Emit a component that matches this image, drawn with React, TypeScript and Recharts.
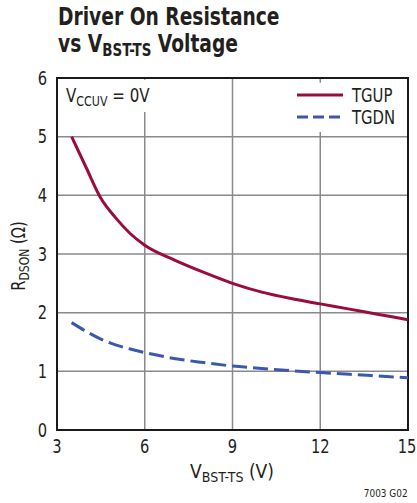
import React from "react";
import {
  LineChart, Line, XAxis, YAxis, CartesianGrid, ReferenceArea, Label,
} from "recharts";

// V_BST-TS (V)
const VOLTS = [3.5, 4, 4.5, 5, 5.5, 6, 7, 8, 9, 10, 11, 12, 13, 14, 15];
// R_DSON (ohm)
const TGUP = [5.0, 4.47, 3.95, 3.62, 3.35, 3.15, 2.9, 2.69, 2.5, 2.35, 2.24, 2.15, 2.06, 1.97, 1.88];
const TGDN = [1.83, 1.68, 1.55, 1.45, 1.38, 1.32, 1.22, 1.15, 1.09, 1.05, 1.01, 0.98, 0.95, 0.92, 0.89];

const X_TICKS = [3, 6, 9, 12, 15];
const Y_TICKS = [0, 1, 2, 3, 4, 5, 6];

const FONT = "'Liberation Sans Narrow', 'DejaVu Sans', sans-serif";
const INK = "#231f20";
const RED = "#9c0c3a";
const BLUE = "#3a58ad";

const data = VOLTS.map((v, i) => ({ v, tgup: TGUP[i], tgdn: TGDN[i] }));

const SERIES = [
  { name: "TGUP", color: RED, dash: undefined },
  { name: "TGDN", color: BLUE, dash: "11 5" },
];

const COND: React.CSSProperties = { fontStretch: "condensed" };

// squeeze text horizontally, the original uses a narrow face
const narrow = (k: number, origin: string): React.CSSProperties => ({
  display: "inline-block",
  transform: `scaleX(${k})`,
  transformOrigin: origin,
  whiteSpace: "nowrap",
});

function LegendBox() {
  return (
    <div style={{ position: "absolute", left: 297, top: 84, fontSize: 19 }}>
      {SERIES.map((r) => (
        <div key={r.name} style={{ display: "flex", alignItems: "center", height: 22 }}>
          <svg width={46} height={6} style={{ marginRight: 9 }}>
            <line x1={0} y1={3} x2={46} y2={3} stroke={r.color} strokeWidth={3} strokeDasharray={r.dash} />
          </svg>
          <span style={narrow(0.87, "left")}>{r.name}</span>
        </div>
      ))}
    </div>
  );
}

function Tick(props: any) {
  const { x, y, payload, textAnchor, axis } = props;
  const dx = axis === "x" && payload.value === 15 ? -1 : 0;
  const px = x + dx;
  return (
    <text
      x={px}
      y={y}
      dy={axis === "x" ? "0.71em" : "0.355em"}
      textAnchor={textAnchor}
      fontSize={19}
      fill={INK}
      fontFamily={FONT}
      style={COND}
      transform={`translate(${px} 0) scale(0.86 1) translate(${-px} 0)`}
    >
      {payload.value}
    </text>
  );
}

export default function App() {
  return (
    <div
      style={{
        position: "absolute", left: 0, top: 0, width: 417, height: 503, background: "#fff",
        fontFamily: FONT, color: INK, overflow: "hidden", ...COND,
      }}
    >
      <div style={{ position: "absolute", left: 58, top: 3, fontWeight: "bold", fontSize: 25, lineHeight: "27px", ...narrow(0.83, "left") }}>
        <div>Driver On Resistance</div>
        <div>
          vs V<sub style={{ fontSize: 18, verticalAlign: "-4px" }}>BST-TS</sub> Voltage
        </div>
      </div>

      <LineChart
        width={417}
        height={503}
        data={data}
        margin={{ top: 78, right: 9, left: 27, bottom: 43 }}
      >
        <CartesianGrid stroke="#8a8a8a" strokeWidth={1.5} />
        <XAxis
          dataKey="v"
          type="number"
          domain={[3, 15]}
          ticks={X_TICKS}
          axisLine={false}
          tickLine={false}
          tickSize={0}
          tickMargin={10}
          height={30}
          tick={<Tick axis="x" />}
        >
          <Label
            content={() => (
              <text x={232} y={478} textAnchor="middle" fontSize={19} fill={INK} fontFamily={FONT} style={COND}>
                V<tspan fontSize={14} dy={4}>BST-TS</tspan>
                <tspan dy={-4}> (V)</tspan>
              </text>
            )}
          />
        </XAxis>
        <YAxis
          type="number"
          domain={[0, 6]}
          ticks={Y_TICKS}
          axisLine={false}
          tickLine={false}
          tickSize={0}
          tickMargin={10}
          width={30}
          tick={<Tick axis="y" />}
        >
          <Label
            content={() => (
              <text
                x={0}
                y={0}
                textAnchor="middle"
                fontSize={19}
                fill={INK}
                fontFamily={FONT}
                style={COND}
                transform="translate(25 256) rotate(-90) scale(0.86 1)"
              >
                R<tspan fontSize={14} dy={4}>DSON</tspan>
                <tspan dy={-4}> (Ω)</tspan>
              </text>
            )}
          />
        </YAxis>
        <ReferenceArea x1={3.05} x2={7.5} y1={5.42} y2={5.97} fill="#fff" fillOpacity={1} stroke="none" />
        <ReferenceArea x1={10.3} x2={14.95} y1={5.08} y2={5.92} fill="#fff" fillOpacity={1} stroke="none" />
        <ReferenceArea x1={3} x2={15} y1={0} y2={6} fill="none" stroke="#1a1a1a" strokeWidth={2} />
        <Line
          dataKey="tgup"
          name="TGUP"
          type="monotone"
          stroke={RED}
          strokeWidth={3}
          dot={false}
          isAnimationActive={false}
        />
        <Line
          dataKey="tgdn"
          name="TGDN"
          type="monotone"
          stroke={BLUE}
          strokeWidth={3}
          strokeDasharray="15 6"
          dot={false}
          isAnimationActive={false}
        />
      </LineChart>

      <LegendBox />
      <div style={{ position: "absolute", left: 66, top: 84, fontSize: 19, ...narrow(0.88, "left") }}>
        V<sub style={{ fontSize: 14, verticalAlign: "-4px" }}>CCUV</sub> = 0V
      </div>
      <div style={{ position: "absolute", right: 9, top: 487, fontSize: 11, ...narrow(0.9, "right") }}>7003 G02</div>
    </div>
  );
}
